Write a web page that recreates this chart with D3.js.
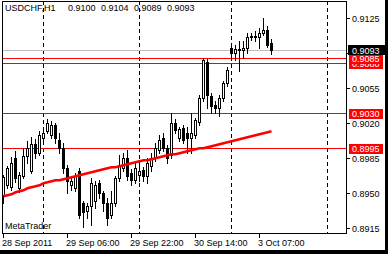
<!DOCTYPE html>
<html>
<head>
<meta charset="utf-8">
<script src="https://cdn.jsdelivr.net/npm/d3@7/dist/d3.min.js"></script>
<style>
  body { margin: 0; background: #fff; }
  text { font-family: "Liberation Sans", Arial, sans-serif; font-size: 9px; }
</style>
</head>
<body>
<div id="chart"></div>
<script>
// USDCHF H1 candles, 28 Sep 2011 14:00 .. 3 Oct 2011
const opens  = [0.8948,0.8958,0.8956,0.8985,0.8955,0.8967,0.8987,0.8972,0.8999,0.8990,0.9005,0.9012,0.9008,0.9018,0.9003,0.8995,0.8975,0.8958,0.8955,0.8972,0.8940,0.8932,0.8937,0.8942,0.8960,0.8950,0.8940,0.8928,0.8940,0.8965,0.8975,0.8985,0.8970,0.8963,0.8968,0.8973,0.8967,0.8977,0.8985,0.8993,0.9005,0.8995,0.8988,0.9020,0.9005,0.9015,0.9010,0.9005,0.9008,0.9021,0.9045,0.9081,0.9047,0.9038,0.9035,0.9045,0.9060,0.9095,0.9090,0.9094,0.9093,0.9095,0.9107,0.9106,0.9106,0.9110,0.9113,0.9100];
const highs  = [0.8968,0.8977,0.8986,0.8992,0.8971,0.8994,0.9002,0.9006,0.9004,0.9012,0.9015,0.9024,0.9022,0.9020,0.9010,0.9000,0.8978,0.8965,0.8970,0.8975,0.8942,0.8940,0.8965,0.8962,0.8963,0.8952,0.8945,0.8952,0.8967,0.8988,0.8990,0.8993,0.8974,0.8980,0.8978,0.8976,0.8985,0.8990,0.9000,0.9008,0.9010,0.8998,0.9030,0.9024,0.9016,0.9018,0.9016,0.9030,0.9025,0.9048,0.9085,0.9084,0.9050,0.9042,0.9048,0.9062,0.9076,0.9100,0.9098,0.9102,0.9102,0.9110,0.9110,0.9112,0.9115,0.9125,0.9117,0.9104];
const lows   = [0.8940,0.8955,0.8953,0.8961,0.8951,0.8965,0.8980,0.8970,0.8985,0.8988,0.9003,0.9010,0.9005,0.9000,0.8990,0.8970,0.8950,0.8953,0.8952,0.8925,0.8916,0.8925,0.8918,0.8935,0.8945,0.8932,0.8918,0.8925,0.8937,0.8962,0.8972,0.8963,0.8958,0.8960,0.8962,0.8962,0.8960,0.8972,0.8982,0.8990,0.8992,0.8980,0.8985,0.9010,0.9002,0.9000,0.8990,0.8990,0.9005,0.9018,0.9042,0.9035,0.9030,0.9030,0.9027,0.9042,0.9057,0.9083,0.9083,0.9072,0.9085,0.9090,0.9103,0.9102,0.9095,0.9108,0.9096,0.9089];
const closes = [0.8966,0.8975,0.8980,0.8965,0.8968,0.8987,0.8995,0.8999,0.8990,0.9008,0.9010,0.9020,0.9018,0.9005,0.8995,0.8975,0.8962,0.8962,0.8967,0.8928,0.8931,0.8937,0.8960,0.8958,0.8950,0.8940,0.8925,0.8940,0.8965,0.8978,0.8985,0.8967,0.8963,0.8975,0.8972,0.8967,0.8980,0.8985,0.8995,0.9003,0.8995,0.8985,0.9020,0.9013,0.9014,0.9003,0.9005,0.9010,0.9023,0.9045,0.9083,0.9048,0.9037,0.9035,0.9045,0.9060,0.9073,0.9090,0.9094,0.9093,0.9095,0.9106,0.9106,0.9107,0.9110,0.9113,0.9098,0.9093];
// moving average (red line)
const maVals = [0.8947,0.8948,0.8949,0.8951,0.8952,0.8953,0.8955,0.8956,0.8957,0.8958,0.8960,0.8961,0.8962,0.8963,0.8963,0.8964,0.8965,0.8966,0.8967,0.8968,0.8969,0.8970,0.8971,0.8972,0.8973,0.8974,0.8975,0.8976,0.8976,0.8977,0.8978,0.8979,0.8980,0.8981,0.8982,0.8983,0.8983,0.8984,0.8985,0.8986,0.8987,0.8988,0.8989,0.8989,0.8990,0.8991,0.8992,0.8993,0.8994,0.8995,0.8995,0.8996,0.8997,0.8998,0.8999,0.9000,0.9001,0.9002,0.9003,0.9004,0.9005,0.9006,0.9007,0.9008,0.9009,0.9010,0.9011,0.9012];

const timeTickIdx = [0, 16, 32, 48, 64];
const timeTickLabels = ["28 Sep 2011", "29 Sep 06:00", "29 Sep 22:00", "30 Sep 14:00", "3 Oct 07:00"];
const dayStartIdx = [10, 34, 57, 81];
const priceTicks = [0.9125, 0.9090, 0.9055, 0.9020, 0.8985, 0.8950, 0.8915];
const levelLines = [0.9080, 0.9085, 0.9030, 0.8995];
const bidPrice = 0.9093;
const titleSymbol = "USDCHF,H1";
const titleOHLC = ["0.9100", "0.9104", "0.9089", "0.9093"];

const W = 388, H = 254;
const pL = 2, pT = 1, pR = 346, pB = 233;

const svg = d3.select("#chart").append("svg")
    .attr("width", W)
    .attr("height", H);

svg.append("rect").attr("width", W).attr("height", H).attr("fill", "#fff");

const x = d3.scaleLinear().domain([0, 86]).range([3, 347]);
const y = d3.scaleLinear().domain([0.8915, 0.9125]).range([228.3, 18.3]);
const py = v => Math.round(y(v));

const defs = svg.append("defs");
defs.append("clipPath").attr("id", "plot")
  .append("rect").attr("x", pL + 1).attr("y", pT + 1)
  .attr("width", pR - pL - 1).attr("height", pB - pT - 1);

const plot = svg.append("g").attr("clip-path", "url(#plot)");

// dashed day separators
plot.selectAll("line.grid").data(dayStartIdx).enter().append("line")
    .attr("class", "grid")
    .attr("x1", d => x(d) + 0.5).attr("x2", d => x(d) + 0.5)
    .attr("y1", pT).attr("y2", pB)
    .attr("stroke", "#000").attr("stroke-dasharray", "4,3");

// bid line
plot.append("line")
    .attr("x1", pL).attr("x2", pR)
    .attr("y1", py(bidPrice) + 0.5).attr("y2", py(bidPrice) + 0.5)
    .attr("stroke", "#c0c0c0");

// horizontal levels
plot.selectAll("line.level").data(levelLines).enter().append("line")
    .attr("class", "level")
    .attr("x1", pL).attr("x2", pR)
    .attr("y1", d => py(d) + 0.5).attr("y2", d => py(d) + 0.5)
    .attr("stroke", "#ff0000");

// candles
const idx = d3.range(opens.length);
const candles = plot.selectAll("g.c").data(idx).enter().append("g").attr("class", "c");

candles.append("line")
    .attr("x1", i => x(i) + 0.5).attr("x2", i => x(i) + 0.5)
    .attr("y1", i => py(highs[i])).attr("y2", i => py(lows[i]) + 1)
    .attr("stroke", "#000");

candles.append("rect")
    .attr("x", i => closes[i] >= opens[i] ? x(i) - 0.5 : x(i) - 1)
    .attr("y", i => closes[i] >= opens[i] ? py(Math.max(opens[i], closes[i])) + 0.5 : py(Math.max(opens[i], closes[i])))
    .attr("width", i => closes[i] >= opens[i] ? 2 : 3)
    .attr("height", i => {
      const h = py(Math.min(opens[i], closes[i])) - py(Math.max(opens[i], closes[i]));
      return closes[i] >= opens[i] ? Math.max(h, 0) : Math.max(h + 1, 1);
    })
    .attr("fill", i => closes[i] >= opens[i] ? "#fff" : "#000")
    .attr("stroke", i => closes[i] >= opens[i] ? "#000" : "none");

// moving average
plot.append("path")
    .datum(maVals)
    .attr("fill", "none")
    .attr("stroke", "#ff0000")
    .attr("stroke-width", 2.5)
    .attr("d", d3.line().x((d, i) => x(i) + 0.5).y(d => y(d)));

// frame
svg.append("rect")
    .attr("x", pL + 0.5).attr("y", pT + 0.5)
    .attr("width", pR - pL).attr("height", pB - pT)
    .attr("fill", "none").attr("stroke", "#000");

// price axis (labels under the bid box are not drawn, as in the terminal)
const yAxis = svg.append("g");
yAxis.selectAll("line").data(priceTicks).enter().append("line")
    .attr("x1", pR + 1).attr("x2", pR + 4)
    .attr("y1", d => py(d) + 0.5).attr("y2", d => py(d) + 0.5)
    .attr("stroke", "#000");
yAxis.selectAll("text").data(priceTicks.filter(d => Math.abs(py(d) - py(bidPrice)) > 9)).enter().append("text")
    .attr("x", 352).attr("y", d => py(d) + 4)
    .text(d => d.toFixed(4));

// level labels, later ones drawn over earlier ones
const lab = svg.selectAll("g.lab").data(levelLines).enter().append("g").attr("class", "lab");
lab.each(function (d, i) {
  const g = d3.select(this);
  // a label covered by the next one keeps only its visible strip
  const next = levelLines[i + 1];
  if (next !== undefined && Math.abs(py(next) - py(d)) < 10) {
    const cid = "lab" + i;
    const top = py(next) + 6;
    defs.append("clipPath").attr("id", cid)
      .append("rect").attr("x", 340).attr("y", top).attr("width", 48).attr("height", py(d) + 6 - top);
    g.attr("clip-path", "url(#" + cid + ")");
  }
  g.append("rect")
    .attr("x", 349).attr("y", py(d) - 4)
    .attr("width", 34).attr("height", 10)
    .attr("fill", "#ff0000");
  g.append("text")
    .attr("x", 352).attr("y", py(d) + 4)
    .attr("fill", "#fff")
    .text(d.toFixed(4));
});

svg.append("rect")
    .attr("x", 348).attr("y", py(bidPrice) - 5)
    .attr("width", 37).attr("height", 10).attr("fill", "#000");
svg.append("text")
    .attr("x", 352).attr("y", py(bidPrice) + 4)
    .attr("fill", "#fff").text(bidPrice.toFixed(4));

// time axis
const xAxis = svg.append("g");
xAxis.selectAll("line").data(timeTickIdx).enter().append("line")
    .attr("x1", d => x(d) + 0.5).attr("x2", d => x(d) + 0.5)
    .attr("y1", pB + 1).attr("y2", pB + 5)
    .attr("stroke", "#000");
xAxis.selectAll("text").data(timeTickIdx).enter().append("text")
    .attr("x", d => x(d) - 1).attr("y", 246)
    .text((d, i) => timeTickLabels[i]);

// title and watermark
svg.append("text").attr("x", 5).attr("y", 11).text(titleSymbol);
svg.append("text").attr("x", 68).attr("y", 11)
    .attr("word-spacing", 3)
    .text(titleOHLC.join(" "));
svg.append("text").attr("x", 5).attr("y", 229).text("MetaTrader");

// window edge
svg.append("rect").attr("x", 385).attr("y", 0).attr("width", 3).attr("height", H).attr("fill", "#000");
svg.append("rect").attr("x", 0).attr("y", 250).attr("width", W).attr("height", 4).attr("fill", "#000");
</script>
</body>
</html>
